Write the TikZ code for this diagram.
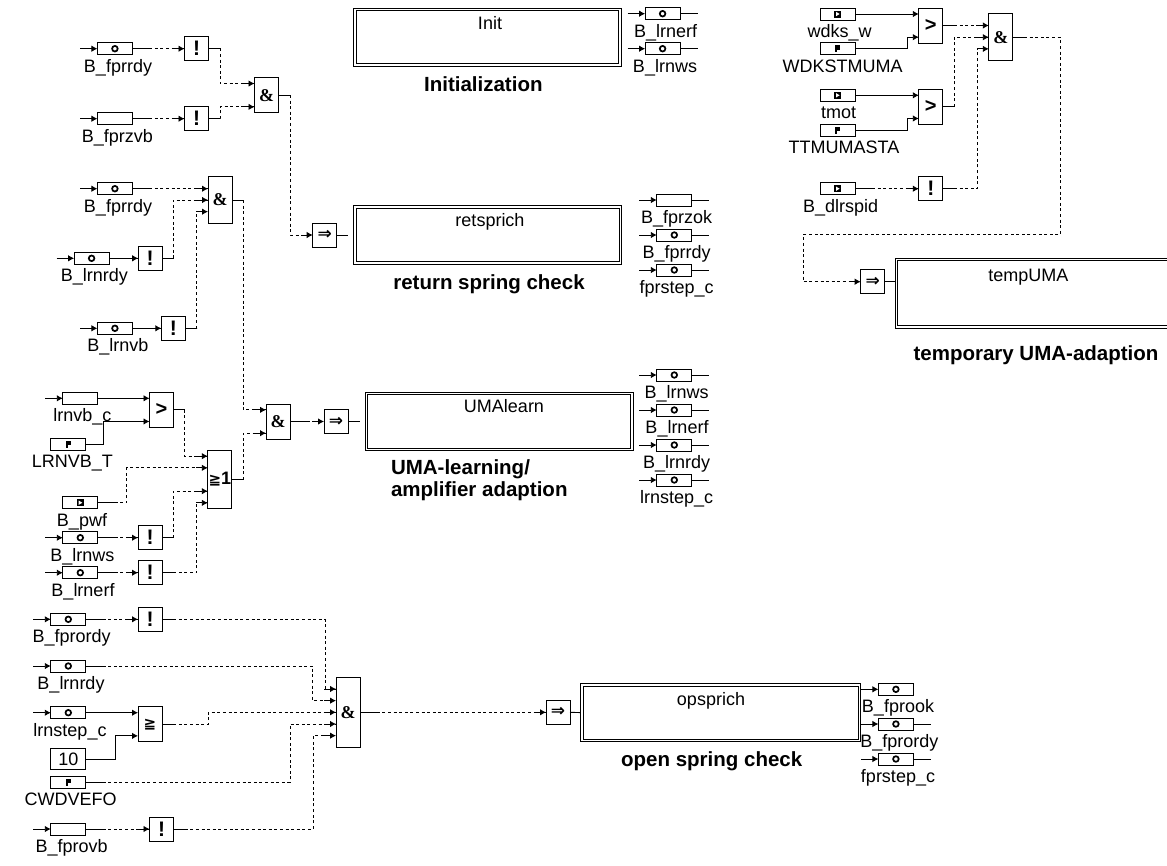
\documentclass[tikz,border=0pt]{standalone}
\usepackage{fontspec}
\setmainfont{Liberation Sans}
\newfontfamily\symfont{DejaVu Sans}
\newfontfamily\serfont{Liberation Serif}
\usetikzlibrary{calc,arrows.meta}
\tikzset{
  x=1pt,y=-1pt,
  every node/.style={inner sep=0pt,outer sep=0pt},
  sline/.style={line width=0.9pt},
  dline/.style={line width=0.9pt,dash pattern=on 3pt off 2.6pt},
  arr/.style={line width=0.9pt,-{Latex[length=6pt,width=6.5pt]}},
  pinbox/.style={draw,line width=0.95pt,minimum width=35pt,minimum height=12pt},
  gatebox/.style={draw,line width=0.95pt,minimum width=24pt,minimum height=#1,font=\fontsize{20}{22}\selectfont\bfseries},
  gatebox/.default=24pt,
  lbl/.style={anchor=base,font=\fontsize{18}{20}\selectfont},
  ttl/.style={anchor=base,font=\fontsize{20.5}{22.3}\selectfont\bfseries},
  block/.style={draw,line width=0.95pt,minimum width=268pt,minimum height=58.4pt},
}
\newcommand\iconc[1]{\draw[line width=1.7pt] (#1) circle (2.8pt);}
\newcommand\iconi[1]{\fill ($(#1)+(-3.8,-3.5)$) rectangle ($(#1)+(3.8,3.5)$);
  \fill[white] ($(#1)+(-1.6,-2.2)$) -- ($(#1)+(2,0)$) -- ($(#1)+(-1.6,2.2)$) -- cycle;}
\newcommand\iconp[1]{\fill ($(#1)+(-2.6,-3.5)$) rectangle ($(#1)+(2.6,0.8)$);
  \fill ($(#1)+(-2.6,0.8)$) rectangle ($(#1)+(-0.2,3.5)$);}
\newcommand\icone[1]{}
% inner frame of a subsystem block
\newcommand\inner[1]{\draw[line width=0.95pt] ([shift={(2.6,2.6)}]#1.north west) rectangle ([shift={(-2.6,-2.6)}]#1.south east);}
% name, left x, y, icon kind, label, label x, in-stub, out-stub
\newcommand\pin[8]{%
  \node[pinbox] (#1) at (#2+17.6,#3) {};
  \csname icon#4\endcsname{#1}
  \node[lbl] (#1l) at (#6,#3+23.3) {#5};
  \ifnum#7=1 \draw[arr] ([xshift=-17.4pt]#1.west) -- (#1.west);\fi
  \ifnum#8=1 \draw[sline] (#1.east) -- ([xshift=17.4pt]#1.east);\fi
}
% from, out-stub, bend x, gate, input index
\newcommand\wire[5]{%
  \coordinate (wb) at (#3,0);
  \coordinate (wt) at ($(#4.west)+(0,#5*11.667)$);
  \draw[dline] (#1) -- (#1 -| wb) -- (wb |- wt) -- (wt);
  \draw[sline] (#1) -- ([xshift=#2pt]#1);
  \draw[arr] ([xshift=-11.67pt]wt) -- (wt);
}
% straight dashed: from, out-stub, gate
\newcommand\swire[3]{%
  \coordinate (wt) at (#1 -| #3.west);
  \draw[dline] (#1) -- (wt);
  \draw[sline] (#1) -- ([xshift=#2pt]#1);
  \draw[arr] ([xshift=-11.67pt]wt) -- (wt);
}
% solid bent: from, bend x, gate, input index
\newcommand\ewire[4]{%
  \coordinate (wb) at (#2,0);
  \coordinate (wt) at ($(#3.west)+(0,#4*11.667)$);
  \draw[arr] (#1) -- (#1 -| wb) -- (wb |- wt) -- (wt);
}
% solid straight: from, gate
\newcommand\ewires[2]{\draw[arr] (#1) -- (#1 -| #2.west);}
\newcommand\notg[3]{\node[gatebox,font=\fontsize{21}{22}\selectfont\bfseries] (#1) at (#2,#3) {!};}
\newcommand\impl[3]{\node[gatebox,font=\fontsize{17}{18}\selectfont\symfont\bfseries] (#1) at (#2,#3) {⇒};}
\newcommand\andg[4]{\node[gatebox=#4,font=\fontsize{18}{20}\selectfont\serfont\bfseries] (#1) at (#2,#3) {\&};}
\begin{document}
\begin{tikzpicture}
\useasboundingbox (0,0) rectangle (1167,865);
\clip (0,0) rectangle (1167,865);

% --- upper left
\pin{p1}{97.3}{48.7}{c}{B\_fprrdy}{118}{1}{1}
\pin{p2}{97.3}{118.7}{e}{B\_fprzvb}{117.3}{1}{1}
\notg{n1}{196.5}{48.7}
\notg{n2}{196.5}{118.7}
\andg{a1}{266.5}{95.2}{35pt}
\swire{p1.east}{17.4}{n1}
\swire{p2.east}{17.4}{n2}
\wire{n1.east}{11.3}{220}{a1}{-1}
\wire{n2.east}{11.3}{220}{a1}{1}

\pin{p3}{97.3}{188.7}{c}{B\_fprrdy}{118}{1}{1}
\pin{p4}{74}{258.3}{c}{B\_lrnrdy}{94.3}{1}{1}
\pin{p5}{97.3}{328.3}{c}{B\_lrnvb}{118}{1}{1}
\notg{n3}{150.2}{258.3}
\notg{n4}{173.3}{328.3}
\andg{a2}{220}{200}{46.67pt}
\swire{p3.east}{17.4}{a2}
\swire{p4.east}{17.4}{n3}
\swire{p5.east}{17.4}{n4}
\wire{n3.east}{11.3}{173.3}{a2}{0}
\wire{n4.east}{11.4}{196.7}{a2}{1}

% --- retsprich
\impl{i1}{324.7}{235}
\wire{a1.east}{11.3}{290}{i1}{0}
\coordinate (i1o) at (347.7,235);
\draw[sline] (i1.east) -- (i1o);
\node[block] (bret) at (487.8,235) {};
\inner{bret}
\node[lbl] (bretn) at (490,226.7) {retsprich};
\node[ttl] (brett) at (489,289.3) {return spring check};
\pin{r1}{656.7}{200}{e}{B\_fprzok}{676.7}{1}{1}
\pin{r2}{656.7}{235}{c}{B\_fprrdy}{676.7}{1}{1}
\pin{r3}{656.7}{270}{c}{fprstep\_c}{676.7}{1}{1}

% --- Init
\node[block] (bini) at (487.5,37.3) {};
\inner{bini}
\node[lbl] (binin) at (490,29.3) {Init};
\node[ttl] (binit) at (483.3,91.7) {Initialization};
\pin{t1}{645}{13.7}{c}{B\_lrnerf}{665.7}{1}{1}
\pin{t2}{645}{48.7}{c}{B\_lrnws}{665}{1}{1}

% --- middle left
\pin{p6}{62.7}{398.3}{e}{lrnvb\_c}{82.3}{1}{1}
\pin{p7}{50.7}{444.3}{p}{LRNVB\_T}{72.3}{0}{1}
\node[gatebox=35pt] (g1) at (161.5,409.8) {>};
\ewires{p6.east}{g1}
\ewire{p7.east}{103.3}{g1}{1}
\node[gatebox=58.33pt] (o1) at (219.8,479.5) {{\fontsize{15}{16}\selectfont\symfont\bfseries ≧}{\fontsize{18}{20}\selectfont 1}};
\pin{p8}{62.7}{502.7}{i}{B\_pwf}{82}{0}{1}
\pin{p9}{62.7}{537.7}{c}{B\_lrnws}{82.3}{1}{1}
\pin{p10}{62.7}{572.7}{c}{B\_lrnerf}{83}{1}{1}
\notg{n5}{150}{537.7}
\notg{n6}{150}{572.7}
\swire{p9.east}{17.4}{n5}
\swire{p10.east}{17.4}{n6}
\wire{g1.east}{11.3}{184.7}{o1}{-2}
\wire{p8.east}{17.4}{126.7}{o1}{-1}
\wire{n5.east}{11.3}{173.3}{o1}{1}
\wire{n6.east}{11.3}{196.7}{o1}{2}
\andg{a3}{278}{421.5}{35pt}
\wire{a2.east}{11.6}{243.3}{a3}{-1}
\wire{o1.east}{11.6}{243.3}{a3}{1}

% --- UMAlearn
\impl{i2}{336}{421.5}
\swire{a3.east}{17.4}{i2}
\coordinate (i2o) at (360,421.5);
\draw[sline] (i2.east) -- (i2o);
\node[block] (buma) at (499.3,421.5) {};
\inner{buma}
\node[lbl] (buman) at (504,412.7) {UMAlearn};
\node[ttl,anchor=west,align=left] (bumat) at (391,480) {UMA-learning/\\amplifier adaption};
\pin{r4}{656.7}{375}{c}{B\_lrnws}{676.7}{1}{1}
\pin{r5}{656.7}{410}{c}{B\_lrnerf}{677}{1}{1}
\pin{r6}{656.7}{445}{c}{B\_lrnrdy}{676.7}{1}{1}
\pin{r7}{656.7}{480}{c}{lrnstep\_c}{676.7}{1}{1}

% --- bottom left
\pin{p11}{50.7}{619.3}{c}{B\_fprordy}{71.7}{1}{1}
\pin{p12}{50.7}{666}{c}{B\_lrnrdy}{71}{1}{1}
\pin{p13}{50.7}{712.7}{c}{lrnstep\_c}{70}{1}{1}
\node[draw,line width=0.95pt,minimum width=35pt,minimum height=21pt,font=\fontsize{18}{20}\selectfont] (k10) at (68.3,759.2) {10};
\pin{p14}{50.7}{782.3}{p}{CWDVEFO}{70.7}{0}{1}
\pin{p15}{50.7}{829}{e}{B\_fprovb}{71.7}{1}{1}
\notg{n7}{150}{619.3}
\notg{n8}{161.5}{829}
\node[gatebox=35pt,font=\fontsize{15}{16}\selectfont\symfont\bfseries] (g2) at (150,724.2) {≧};
\andg{a4}{348}{712.3}{70pt}
\swire{p11.east}{17.4}{n7}
\swire{p15.east}{17.4}{n8}
\ewires{p13.east}{g2}
\ewire{k10.east}{115}{g2}{1}
\wire{n7.east}{11.3}{325}{a4}{-2}
\wire{p12.east}{17.4}{312.7}{a4}{-1}
\wire{g2.east}{11.3}{208.3}{a4}{0}
\wire{p14.east}{17.4}{290}{a4}{1}
\wire{n8.east}{11.3}{313.3}{a4}{2}

% --- opsprich
\impl{i3}{558}{712.3}
\swire{a4.east}{17.4}{i3}
\node[block,minimum width=280pt] (bops) at (720.8,712.6) {};
\inner{bops}
\draw[sline] (i3.east) -- (bops.west);
\node[lbl] (bopsn) at (711,705) {opsprich};
\node[ttl] (bopst) at (711.7,766.7) {open spring check};
\pin{r8}{878.3}{689.3}{c}{B\_fprook}{898}{1}{0}
\pin{r9}{878.3}{724}{c}{B\_fprordy}{899.3}{1}{1}
\pin{r10}{878.3}{759}{c}{fprstep\_c}{898}{1}{1}

% --- upper right
\pin{q1}{820}{14}{i}{wdks\_w}{839.7}{0}{0}
\pin{q2}{820}{48.7}{p}{WDKSTMUMA}{842.7}{0}{0}
\pin{q3}{820}{95.3}{i}{tmot}{838.7}{0}{0}
\pin{q4}{820}{130}{p}{TTMUMASTA}{844}{0}{0}
\pin{q5}{820}{188.7}{i}{B\_dlrspid}{840.7}{0}{1}
\node[gatebox=35pt] (g3) at (930.8,25.5) {>};
\node[gatebox=35pt] (g4) at (930.8,106.8) {>};
\notg{n9}{930.8}{188.5}
\andg{a5}{1000.8}{37.2}{46.67pt}
\ewires{q1.east}{g3}
\ewire{q2.east}{907.7}{g3}{1}
\ewires{q3.east}{g4}
\ewire{q4.east}{907.7}{g4}{1}
\swire{q5.east}{17.4}{n9}
\swire{g3.east}{11.3}{a5}
\wire{g4.east}{11.3}{954}{a5}{0}
\wire{n9.east}{11.3}{977.7}{a5}{1}

% --- tempUMA
\impl{i4}{872.7}{281.7}
\coordinate (c1) at (1060,234.7);
\coordinate (c2) at (803.3,234.7);
\coordinate (wt) at (i4.west);
\draw[dline] (a5.east) -- (a5.east -| c1) -- (c1) -- (c2) -- (c2 |- wt) -- (wt);
\draw[sline] (a5.east) -- ([xshift=11.3pt]a5.east);
\draw[arr] ([xshift=-11.67pt]wt) -- (wt);
\node[block,minimum width=300pt,minimum height=70pt] (btmp) at (1045.3,293.3) {};
\inner{btmp}
\draw[sline] (i4.east) -- (i4.east -| btmp.west);
\node[lbl] (btmpn) at (1028.3,281.7) {tempUMA};
\node[ttl] (btmpt) at (1036,360) {temporary UMA-adaption};
\end{tikzpicture}
\end{document}
